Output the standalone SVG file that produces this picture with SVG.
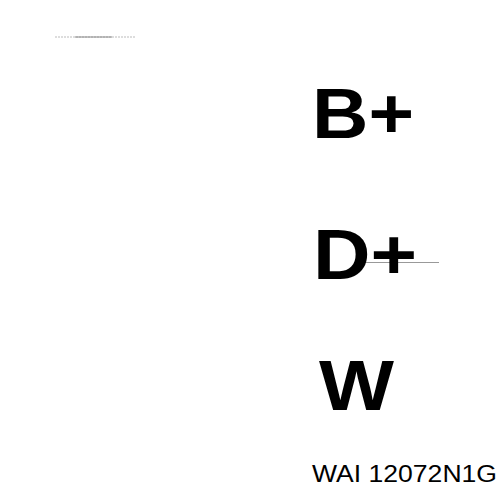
<svg xmlns="http://www.w3.org/2000/svg" width="500" height="500" viewBox="0 0 500 500">
<style>
.big{font-family:"Liberation Sans",Arial,sans-serif;font-weight:bold;font-size:70px;fill:#000}
.lbl{font-family:"Liberation Sans",Arial,sans-serif;font-size:23px;fill:#000}
</style>
<rect width="500" height="500" fill="#fff"/>
<g id="deco">
<line x1="55" y1="37" x2="135" y2="37" stroke="#bbb" stroke-width="1" stroke-dasharray="2,1"/>
<line x1="75" y1="37" x2="112" y2="37" stroke="#888" stroke-width="1"/>
<line x1="358" y1="262.5" x2="439" y2="262.5" stroke="#999" stroke-width="1"/>
</g>
<g id="bplus"><text class="big" x="312" y="138" textLength="102" lengthAdjust="spacingAndGlyphs">B+</text></g>
<g id="dplus"><text class="big" x="313" y="279" textLength="104" lengthAdjust="spacingAndGlyphs">D+</text></g>
<g id="w"><text class="big" x="319" y="410" textLength="75" lengthAdjust="spacingAndGlyphs">W</text></g>
<g id="code"><text class="lbl" x="312" y="482" textLength="185" lengthAdjust="spacingAndGlyphs">WAI 12072N1G</text></g>
</svg>
